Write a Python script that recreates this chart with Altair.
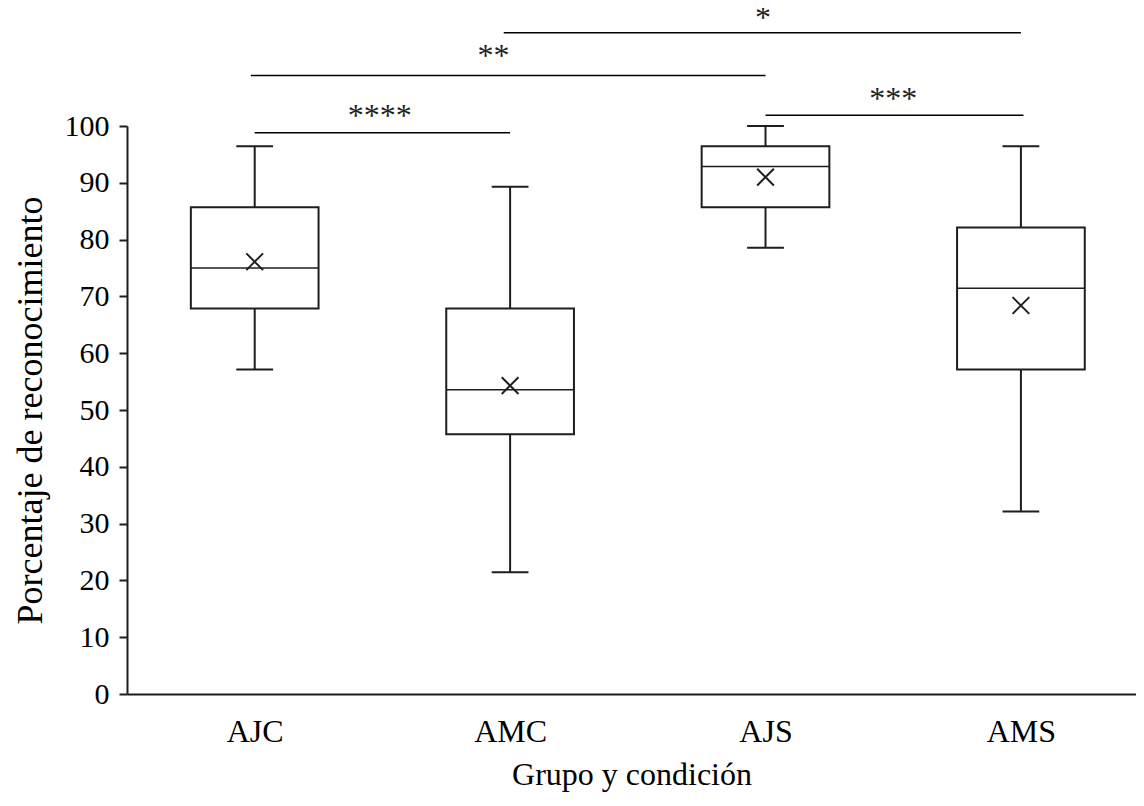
import altair as alt
import pandas as pd

# ---- data ----
groups = ["AJC", "AMC", "AJS", "AMS"]
positions = [0, 1, 2, 3]
whisker_low = [57.14, 21.43, 78.57, 32.14]
q1_values = [67.86, 45.71, 85.71, 57.14]
median_values = [75.0, 53.57, 92.86, 71.43]
q3_values = [85.71, 67.86, 96.43, 82.14]
whisker_high = [96.43, 89.29, 100.0, 96.43]
mean_values = [76.1, 54.3, 91.0, 68.4]

sig_start = [0.0, -0.015, 0.975, 2.0]
sig_end = [1.0, 2.0, 3.0, 3.01]
sig_line_y = [98.8, 108.9, 116.4, 101.9]
sig_text_x = [0.49, 0.935, 1.99, 2.5]
sig_text_y = [99.96, 110.56, 117.2, 103.07]
sig_labels = ["****", "**", "*", "***"]

y_ticks = list(range(0, 101, 10))

df = pd.DataFrame({
    "group": groups, "pos": positions, "lo": whisker_low, "q1": q1_values,
    "med": median_values, "q3": q3_values, "hi": whisker_high, "mean": mean_values,
})
sig = pd.DataFrame({
    "x1": sig_start, "x2": sig_end, "ly": sig_line_y,
    "tx": sig_text_x, "ty": sig_text_y, "label": sig_labels,
})

FONT = "Liberation Serif"
INK = "#1e1e1e"

label_expr = "[" + ",".join(f"'{g}'" for g in groups) + "][datum.value]"

xscale = alt.Scale(domain=[-0.5, 3.4506], nice=False, zero=False)
yscale = alt.Scale(domain=[0, 100], nice=False)

xaxis = alt.Axis(values=positions, labelExpr=label_expr, ticks=False, tickSize=0,
                 grid=False, domainColor=INK, domainWidth=2, labelFont=FONT,
                 labelFontSize=32, labelColor="black", labelPadding=22,
                 titleFont=FONT, titleFontSize=32, titleFontWeight="normal",
                 titleColor="black", titlePadding=12)
yaxis = alt.Axis(values=y_ticks, grid=False, domainColor=INK, domainWidth=2,
                 tickColor=INK, tickWidth=2, tickSize=8, labelFont=FONT,
                 labelFontSize=30, labelColor="black", labelPadding=10,
                 titleFont=FONT, titleFontSize=36, titleFontWeight="normal",
                 titleColor="black", titlePadding=15)

base = alt.Chart(df).transform_calculate(
    box_l="datum.pos - 0.25", box_r="datum.pos + 0.25",
    cap_l="datum.pos - 0.072", cap_r="datum.pos + 0.072",
)

X = alt.X("pos:Q", scale=xscale, axis=xaxis, title="Grupo y condición")

whisk_lo = base.mark_rule(color=INK, strokeWidth=2).encode(
    x=X, y=alt.Y("lo:Q", scale=yscale, axis=yaxis, title="Porcentaje de reconocimiento"),
    y2="q1:Q")
whisk_hi = base.mark_rule(color=INK, strokeWidth=2).encode(
    x=alt.X("pos:Q", scale=xscale), y=alt.Y("q3:Q", scale=yscale), y2="hi:Q")
cap_lo = base.mark_rule(color=INK, strokeWidth=2).encode(
    x=alt.X("cap_l:Q", scale=xscale), x2="cap_r:Q", y=alt.Y("lo:Q", scale=yscale))
cap_hi = base.mark_rule(color=INK, strokeWidth=2).encode(
    x=alt.X("cap_l:Q", scale=xscale), x2="cap_r:Q", y=alt.Y("hi:Q", scale=yscale))
box = base.mark_bar(fill="white", stroke=INK, strokeWidth=2).encode(
    x=alt.X("box_l:Q", scale=xscale), x2="box_r:Q",
    y=alt.Y("q1:Q", scale=yscale), y2="q3:Q")
median = base.mark_rule(color=INK, strokeWidth=1.6).encode(
    x=alt.X("box_l:Q", scale=xscale), x2="box_r:Q", y=alt.Y("med:Q", scale=yscale))
mean = base.mark_point(shape="M-1,-1L1,1M-1,1L1,-1", size=280, filled=False,
                       stroke=INK, strokeWidth=2, opacity=1).encode(
    x=alt.X("pos:Q", scale=xscale), y=alt.Y("mean:Q", scale=yscale))

sig_base = alt.Chart(sig)
sig_lines = sig_base.mark_rule(color="black", strokeWidth=1.5).encode(
    x=alt.X("x1:Q", scale=xscale), x2="x2:Q", y=alt.Y("ly:Q", scale=yscale))
sig_text = sig_base.mark_text(font=FONT, fontSize=32, color="#222222",
                              baseline="alphabetic", align="center").encode(
    x=alt.X("tx:Q", scale=xscale), y=alt.Y("ty:Q", scale=yscale), text="label:N")

chart = alt.layer(
    whisk_lo, whisk_hi, cap_lo, cap_hi, box, median, mean, sig_lines, sig_text
).properties(
    width=1009, height=568,
    background="white",
    autosize=alt.AutoSizeParams(type="none"),
    padding={"left": 119, "top": 118, "right": 0, "bottom": 100},
).configure_view(strokeWidth=0, stroke="transparent")

chart.save("out.html", embed_options={"renderer": "svg", "actions": False})
